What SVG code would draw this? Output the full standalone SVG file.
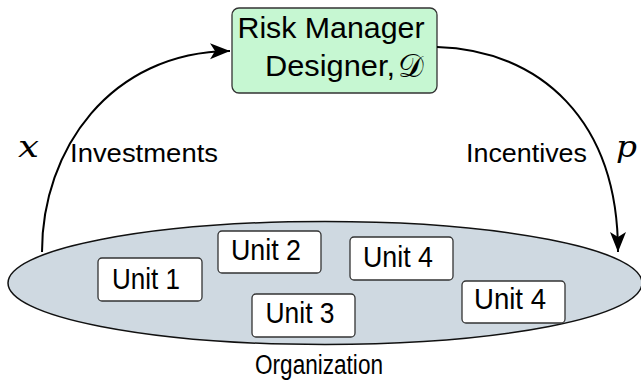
<svg xmlns="http://www.w3.org/2000/svg" width="641" height="380" viewBox="0 0 641 380">
  <style>
    .lbl { font-family: "Liberation Sans", Arial, sans-serif; fill: #000; }
    .unit rect { fill: #ffffff; stroke: #333333; stroke-width: 1.3; }
    .unit text { font-family: "Liberation Sans", Arial, sans-serif; font-size: 30px; text-anchor: middle; fill: #000; }
    .math { font-family: "DejaVu Serif", "Liberation Serif", serif; font-style: italic; fill: #000; }
    .conn { fill: none; stroke: #000; stroke-width: 2; }
  </style>
  <defs>
    <marker id="arr" markerUnits="userSpaceOnUse" markerWidth="22" markerHeight="18" refX="20" refY="8" orient="auto">
      <path d="M0,0 L20,8 L0,16 L5,8 z" fill="#000"/>
    </marker>
  </defs>
  <rect width="641" height="380" fill="#ffffff"/>

  <g id="organization">
    <ellipse cx="325" cy="283" rx="317" ry="61.5" fill="#cfd9e1" stroke="#111" stroke-width="1.5"/>
    <text class="lbl" x="319" y="374" font-size="27" text-anchor="middle" textLength="128" lengthAdjust="spacingAndGlyphs">Organization</text>
  </g>

  <g id="designer">
    <rect x="232" y="8" width="205" height="85" rx="7" fill="#c6f7d2" stroke="#333" stroke-width="1.3"/>
    <text class="lbl" x="331" y="38" font-size="30" text-anchor="middle" textLength="187" lengthAdjust="spacingAndGlyphs">Risk Manager</text>
    <text class="lbl" x="265" y="76" font-size="30" textLength="130" lengthAdjust="spacingAndGlyphs">Designer,</text>
    <text x="398" y="77" font-size="32" font-family="DejaVu Serif, serif">𝒟</text>
  </g>

  <g id="unit1" class="unit">
    <rect x="98" y="258" width="104" height="43" rx="4"/>
    <text x="146" y="289" textLength="68" lengthAdjust="spacingAndGlyphs">Unit 1</text>
  </g>
  <g id="unit2" class="unit">
    <rect x="218" y="231" width="103" height="42" rx="4"/>
    <text x="266" y="260" textLength="70" lengthAdjust="spacingAndGlyphs">Unit 2</text>
  </g>
  <g id="unit4a" class="unit">
    <rect x="350" y="237" width="103" height="43" rx="4"/>
    <text x="398" y="267" textLength="70" lengthAdjust="spacingAndGlyphs">Unit 4</text>
  </g>
  <g id="unit3" class="unit">
    <rect x="252" y="294" width="103" height="43" rx="4"/>
    <text x="300" y="323" textLength="69" lengthAdjust="spacingAndGlyphs">Unit 3</text>
  </g>
  <g id="unit4b" class="unit">
    <rect x="462" y="281" width="103" height="42" rx="4"/>
    <text x="510" y="309" textLength="72" lengthAdjust="spacingAndGlyphs">Unit 4</text>
  </g>

  <g id="connectors">
    <path class="conn" d="M42,252 C42,150 110,52 230,51" marker-end="url(#arr)"/>
    <path class="conn" d="M437,47 C540,50 618,120 618,252" marker-end="url(#arr)"/>
    <text class="lbl" x="70" y="162" font-size="26" textLength="148" lengthAdjust="spacingAndGlyphs">Investments</text>
    <text class="lbl" x="466" y="162" font-size="26" textLength="121" lengthAdjust="spacingAndGlyphs">Incentives</text>
    <text class="math" x="18" y="157" font-size="30" textLength="21" lengthAdjust="spacingAndGlyphs">x</text>
    <text class="math" x="616" y="157" font-size="30" textLength="21" lengthAdjust="spacingAndGlyphs">p</text>
  </g>
</svg>
